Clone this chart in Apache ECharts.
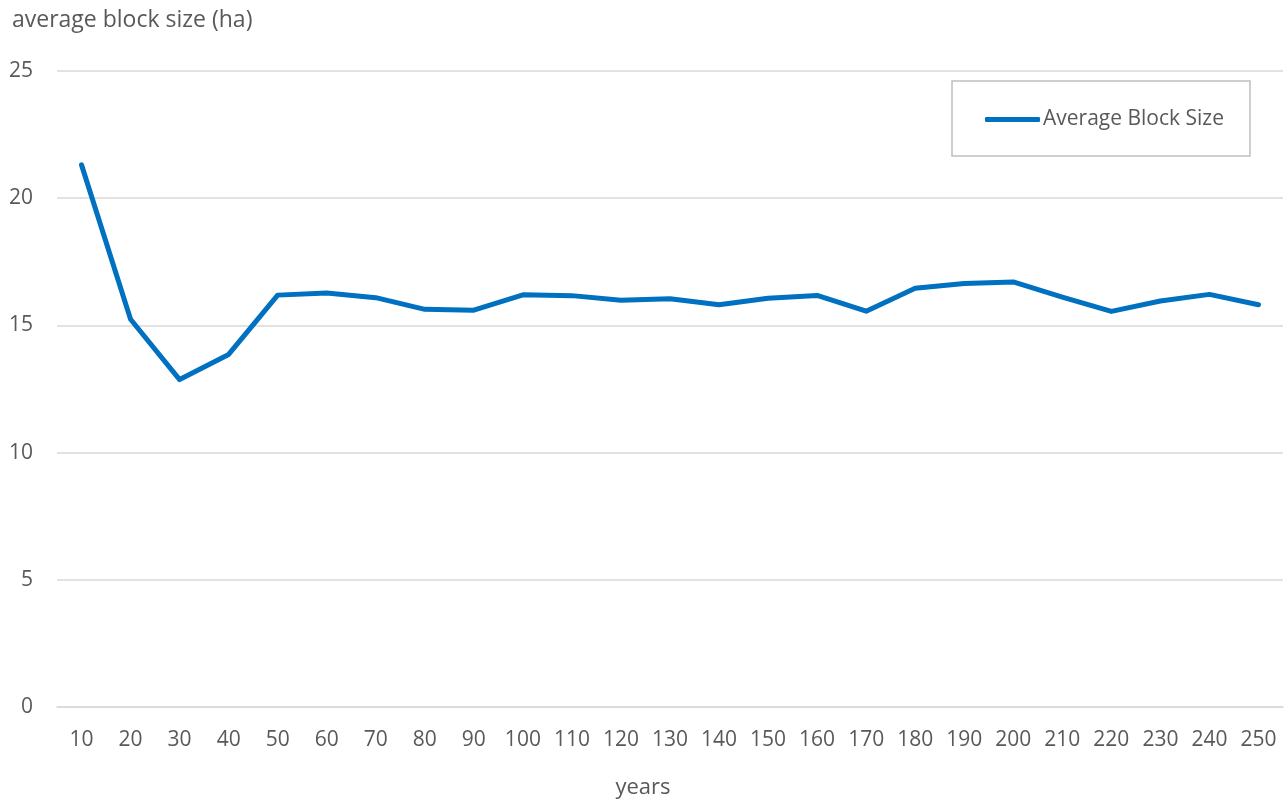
<!DOCTYPE html>
<html>
<head>
<meta charset="utf-8">
<title>Average Block Size</title>
<script src="https://cdn.jsdelivr.net/npm/echarts@6/dist/echarts.min.js"></script>
<style>
  html, body { margin: 0; padding: 0; background: #fff; }
  #chart { width: 1286px; height: 801px; }
</style>
</head>
<body>
<div id="chart"></div>
<script>
// Simulation years (x axis categories)
const years = ['10','20','30','40','50','60','70','80','90','100','110','120','130',
               '140','150','160','170','180','190','200','210','220','230','240','250'];

// Average block size in hectares for each year
const avgBlockSize = [21.31, 15.24, 12.87, 13.86, 16.19, 16.27, 16.09, 15.63, 15.60, 16.20,
                      16.17, 15.99, 16.05, 15.81, 16.07, 16.18, 15.56, 16.46, 16.65, 16.71,
                      16.11, 15.55, 15.96, 16.22, 15.81];

const seriesName = 'Average Block Size';
const yAxisTitle = 'average block size (ha)';
const xAxisTitle = 'years';

const FONT = '"Open Sans", "Noto Sans", sans-serif';
const TEXT = '#595959';
const GRID_LINE = '#d9d9d9';
const BLUE = '#0070c0';

const chart = echarts.init(document.getElementById('chart'), null, { renderer: 'canvas' });

chart.setOption({
  animation: false,
  backgroundColor: '#ffffff',
  textStyle: { fontFamily: FONT, color: TEXT },
  grid: { left: 57, right: 3, top: 71, bottom: 94, containLabel: false },
  graphic: [
    {
      type: 'text', left: 12, top: 9,
      style: { text: yAxisTitle, font: '23px ' + FONT, fill: TEXT }
    },
    {
      type: 'text', left: 'center', top: 777,
      style: { text: xAxisTitle, font: '22px ' + FONT, fill: TEXT }
    }
  ],
  legend: {
    data: [seriesName],
    left: 952, top: 81,
    padding: [28, 26, 26, 33],
    borderColor: '#bfbfbf', borderWidth: 1.5,
    icon: 'roundRect',
    itemWidth: 55, itemHeight: 5, itemGap: 0,
    textStyle: { fontFamily: FONT, fontSize: 21, color: TEXT, padding: [0, 0, 0, -2] }
  },
  xAxis: {
    type: 'category',
    data: years,
    boundaryGap: true,
    axisLine: { show: true, lineStyle: { color: GRID_LINE, width: 1.5 } },
    axisTick: { show: false },
    axisLabel: { color: TEXT, fontSize: 21, fontFamily: FONT, margin: 23, interval: 0 },
    splitLine: { show: false }
  },
  yAxis: {
    type: 'value',
    min: 0, max: 25, interval: 5,
    axisLine: { show: false },
    axisTick: { show: false },
    axisLabel: { color: TEXT, fontSize: 21, fontFamily: FONT, margin: 24 },
    splitLine: { show: true, lineStyle: { color: GRID_LINE, width: 1.5 } }
  },
  series: [
    {
      name: seriesName,
      type: 'line',
      data: avgBlockSize,
      symbol: 'none',
      lineStyle: { color: BLUE, width: 5, cap: 'round', join: 'round' },
      itemStyle: { color: BLUE }
    }
  ]
});
</script>
</body>
</html>
